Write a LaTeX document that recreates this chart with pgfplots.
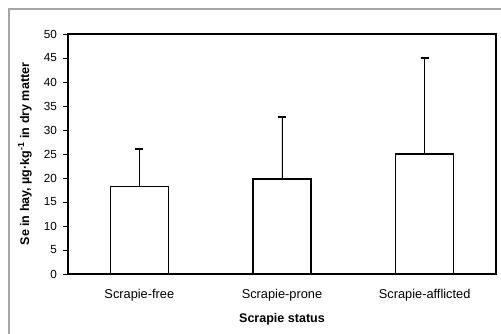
\documentclass[border=0pt]{standalone}
\usepackage{fontspec}
\setmainfont{Liberation Sans}
\usepackage{pgfplots}
\pgfplotsset{compat=1.18}
\begin{document}
\begin{tikzpicture}
\useasboundingbox (0pt,0pt) rectangle (375.75pt,250.5pt);
\draw[gray!70, line width=0.9pt] (6.75pt,0pt) -- (6.75pt,243.75pt) -- (375.75pt,243.75pt);
\begin{axis}[
  at={(51pt,45pt)}, anchor=south west,
  scale only axis, width=321pt, height=180pt,
  xmin=-0.5, xmax=2.5, ymin=0, ymax=50,
  ytick={0,5,...,50},
  xtick={0,1,2},
  xticklabels={Scrapie-free,Scrapie-prone,Scrapie-afflicted},
  major x tick style={draw=none},
  extra x ticks={0.5,1.5},
  extra x tick labels={},
  extra x tick style={major tick length=4pt, tick style={draw=black, line width=0.6pt}},
  tick align=outside,
  major tick length=3.75pt,
  xtick pos=bottom, ytick pos=left,
  axis line style={line width=0.8pt},
  tick style={line width=0.6pt, black},
  /pgf/number format/assume math mode=true,
  yticklabel style={font=\fontsize{8.8pt}{10pt}\selectfont, xshift=-1pt},
  xticklabel style={font=\fontsize{9.6pt}{11pt}\selectfont, yshift=-4pt},
  ylabel={Se in hay, µg·kg\textsuperscript{-1} in dry matter},
  ylabel style={font=\bfseries\fontsize{9.4pt}{11pt}\selectfont, at={(axis description cs:-0.1005,0.5)}, anchor=center},
  xlabel={Scrapie status},
  xlabel style={font=\bfseries\fontsize{9.4pt}{11pt}\selectfont, at={(axis description cs:0.5,-0.1875)}, anchor=center},
  ybar, bar width=43.5pt,
]
\addplot[draw=black, fill=white, line width=1pt,
  error bars/.cd, y dir=plus, y explicit, error mark=|,
  error bar style={line width=0.6pt, black},
  error mark options={line width=1.2pt, mark size=3pt, black}]
  coordinates {
  (0,18.2) +- (0,7.8)
  (1,19.8) +- (0,12.9)
  (2,25.0) +- (0,20.0)
};
\end{axis}
\end{tikzpicture}
\end{document}
